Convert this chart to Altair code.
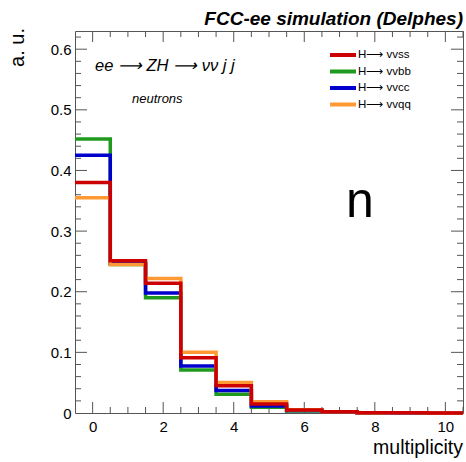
import altair as alt
import pandas as pd

# ---------------- data ----------------
bin_centers = [0, 1, 2, 3, 4, 5, 6, 7, 8, 9, 10]
processes = ["H⟶ vvss", "H⟶ vvbb", "H⟶ vvcc", "H⟶ vvqq"]
colors = ["#cc0000", "#1f9a1f", "#0000cc", "#ff9933"]

vals_vvss = [0.380, 0.251, 0.214, 0.091, 0.045, 0.0148, 0.005, 0.002, 0.0005, 0.0003, 0.0002]
vals_vvbb = [0.452, 0.245, 0.190, 0.071, 0.031, 0.0093, 0.0035, 0.0013, 0.0004, 0.0002, 0.0001]
vals_vvcc = [0.425, 0.247, 0.198, 0.0775, 0.037, 0.0115, 0.004, 0.0015, 0.0004, 0.0002, 0.0001]
vals_vvqq = [0.355, 0.245, 0.222, 0.100, 0.0505, 0.0187, 0.0055, 0.002, 0.0005, 0.0003, 0.0002]

x_major = [0, 2, 4, 6, 8, 10]
x_minor = [0.5, 1, 1.5, 2.5, 3, 3.5, 4.5, 5, 5.5, 6.5, 7, 7.5, 8.5, 9, 9.5, 10.5]
y_labels = [0, 0.1, 0.2, 0.3, 0.4, 0.5, 0.6]
y_major = [0.1, 0.2, 0.3, 0.4, 0.5, 0.6]
y_minor = [0.02, 0.04, 0.06, 0.08, 0.12, 0.14, 0.16, 0.18, 0.22, 0.24, 0.26, 0.28,
           0.32, 0.34, 0.36, 0.38, 0.42, 0.44, 0.46, 0.48, 0.52, 0.54, 0.56, 0.58, 0.62]

series = {
    processes[0]: vals_vvss,
    processes[1]: vals_vvbb,
    processes[2]: vals_vvcc,
    processes[3]: vals_vvqq,
}

rows = []
for p, vals in series.items():
    for c, v in zip(bin_centers, vals):
        rows.append({"process": p, "x": c - 0.5, "v": v})
    rows.append({"process": p, "x": bin_centers[-1] + 0.5, "v": vals[-1]})
df = pd.DataFrame(rows)

W, H = 388, 382
FONT = "Liberation Sans"
TICK = "#555555"

xscale = alt.Scale(domain=[-0.5, 10.5], nice=False, zero=False)
yscale = alt.Scale(domain=[0, 0.63], nice=False, zero=True)
cscale = alt.Scale(domain=processes, range=colors)

xaxis = alt.Axis(values=x_major, title=None, tickSize=0, domain=False, grid=False,
                 labelFontSize=15, labelPadding=6, labelColor="black", labelFont=FONT,
                 format="d", labelOverlap=False)
yaxis = alt.Axis(values=y_labels, title=None, tickSize=0, domain=False, grid=False,
                 labelFontSize=15, labelPadding=4, labelColor="black", labelFont=FONT,
                 format="~g", labelOverlap=False)

layers = []
draw_order = [processes[1], processes[2], processes[3], processes[0]]
for i, p in enumerate(draw_order):
    layers.append(
        alt.Chart(df).transform_filter(alt.datum.process == p)
        .mark_line(interpolate="step-after", strokeWidth=3.5)
        .encode(
            x=alt.X("x:Q", scale=xscale, axis=xaxis),
            y=alt.Y("v:Q", scale=yscale, axis=yaxis),
            color=alt.Color("process:N", scale=cscale, legend=alt.Legend(title=None)),
        )
    )

# ticks (inside, on all four sides)
def xticks(vals, length):
    d = pd.DataFrame({"t": vals})
    bottom = alt.Chart(d).mark_rule(color=TICK, strokeWidth=1).encode(
        x=alt.X("t:Q", scale=xscale, axis=xaxis), y=alt.value(H), y2=alt.value(H - length))
    top = alt.Chart(d).mark_rule(color=TICK, strokeWidth=1).encode(
        x=alt.X("t:Q", scale=xscale, axis=xaxis), y=alt.value(0), y2=alt.value(length))
    return [bottom, top]

def yticks(vals, length):
    d = pd.DataFrame({"t": vals})
    left = alt.Chart(d).mark_rule(color=TICK, strokeWidth=1).encode(
        y=alt.Y("t:Q", scale=yscale, axis=yaxis), x=alt.value(0), x2=alt.value(length))
    right = alt.Chart(d).mark_rule(color=TICK, strokeWidth=1).encode(
        y=alt.Y("t:Q", scale=yscale, axis=yaxis), x=alt.value(W), x2=alt.value(W - length))
    return [left, right]

layers = xticks(x_major, 11) + xticks(x_minor, 6) + yticks(y_major, 12) + yticks(y_minor, 6) + layers

one = pd.DataFrame({"a": [0]})

def txt(text, x, y, size, align="left", style="normal", weight="normal", angle=0):
    kw = dict(font=FONT, fontSize=size, align=align, baseline="alphabetic",
              fontStyle=style, fontWeight=weight, color="black")
    if angle:
        kw["angle"] = angle
    return alt.Chart(one).mark_text(**kw).encode(
        x=alt.value(x), y=alt.value(y), text=alt.value(text))

layers += [
    txt("FCC-ee simulation (Delphes)", 388, -6, 19, align="right", style="italic", weight="bold"),
    txt("a. u.", -51, -3, 20, align="right", angle=270),
    txt("multiplicity", 388, 423, 19.5, align="right"),
    txt("ee ⟶ ZH ⟶ νν j j", 20, 40, 16.5, style="italic"),
    txt("neutrons", 57, 72, 13, style="italic"),
    txt("n", 271, 186, 50),
]

chart = alt.layer(*layers).properties(
    width=W, height=H,
    autosize=alt.AutoSizeParams(type="none"),
    padding={"left": 75, "top": 31, "right": 3, "bottom": 49},
    background="white",
).configure_view(
    stroke="#555555", strokeWidth=1
).configure_legend(
    orient="none", legendX=261, legendY=17,
    symbolType="M-2.6,0L2.6,0", symbolSize=100, symbolStrokeWidth=4,
    symbolFillColor="transparent",
    labelFont=FONT, labelFontSize=11.5, labelColor="black", labelOffset=8,
    rowPadding=0.5, padding=0,
)

chart.save("out.html", embed_options={"renderer": "svg", "actions": False})
